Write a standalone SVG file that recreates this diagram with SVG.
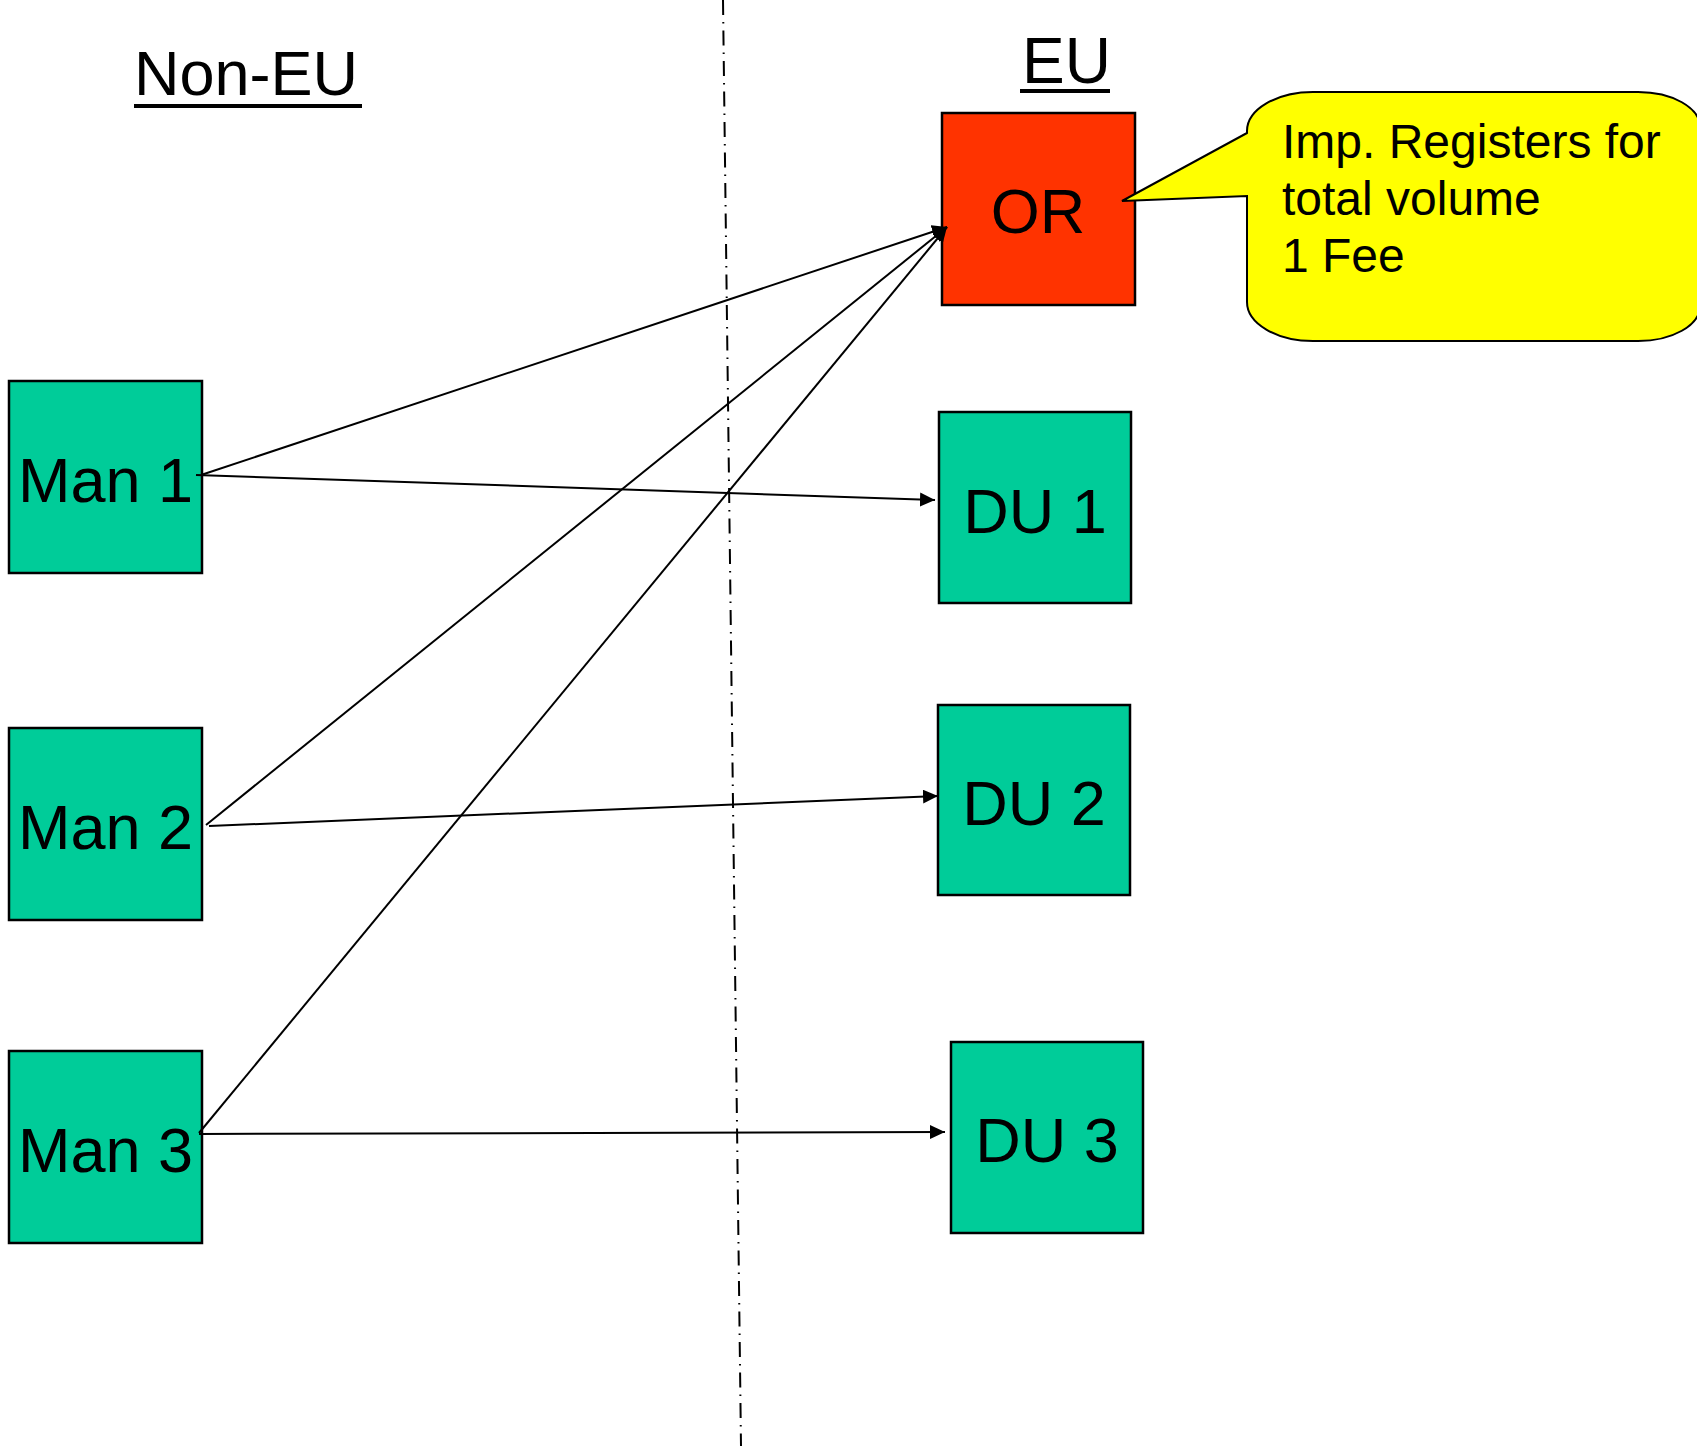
<svg xmlns="http://www.w3.org/2000/svg" width="1697" height="1446" viewBox="0 0 1697 1446">
<style>
.box{stroke:#000;stroke-width:2.5}
.green{fill:#00CC99}
.lbl{font-family:"Liberation Sans",Arial,sans-serif;font-size:63px;fill:#000;text-anchor:middle}
.head{font-family:"Liberation Sans",Arial,sans-serif;fill:#000}
.conn{stroke:#000;stroke-width:2;fill:none}
.ul{stroke:#000;stroke-width:4}
</style>
<defs>
<marker id="arr" markerUnits="userSpaceOnUse" markerWidth="16" markerHeight="14" refX="15" refY="7" orient="auto">
<path d="M0,0 L15,7 L0,14 Z" fill="#000"/>
</marker>
</defs>
<rect width="1697" height="1446" fill="#fff"/>
<line x1="723" y1="0" x2="741" y2="1446" stroke="#000" stroke-width="2" stroke-dasharray="15 7 1.5 7"/>
<g id="label-noneu">
<text class="head" x="134" y="95" font-size="63">Non-EU</text>
<line class="ul" x1="134" y1="106" x2="362" y2="106"/>
</g>
<g id="label-eu">
<text class="head" x="1022" y="83" font-size="64">EU</text>
<line class="ul" x1="1020" y1="91" x2="1110" y2="91"/>
</g>
<g id="node-or">
<rect class="box" x="942" y="113" width="193" height="192" fill="#FF3300"/>
<text class="lbl" x="1038" y="233">OR</text>
</g>
<g id="callout">
<path d="M1247,133 L1122,201 L1247,196 L1247,302 A66,39 0 0 0 1313,341 L1638,341 A62,35 0 0 0 1700,306 L1700,127 A62,35 0 0 0 1638,92 L1313,92 A66,39 0 0 0 1247,131 Z" fill="#FFFF00" stroke="#000" stroke-width="2"/>
<text class="head" font-size="48"><tspan x="1282" y="158">Imp. Registers for</tspan><tspan x="1282" y="215">total volume</tspan><tspan x="1282" y="272">1 Fee</tspan></text>
</g>
<g id="node-man1">
<rect class="box green" x="9" y="381" width="193" height="192"/>
<text class="lbl" x="105.5" y="502">Man 1</text>
</g>
<g id="node-man2">
<rect class="box green" x="9" y="728" width="193" height="192"/>
<text class="lbl" x="105.5" y="849">Man 2</text>
</g>
<g id="node-man3">
<rect class="box green" x="9" y="1051" width="193" height="192"/>
<text class="lbl" x="105.5" y="1172">Man 3</text>
</g>
<g id="node-du1">
<rect class="box green" x="939" y="412" width="192" height="191"/>
<text class="lbl" x="1035" y="533">DU 1</text>
</g>
<g id="node-du2">
<rect class="box green" x="938" y="705" width="192" height="190"/>
<text class="lbl" x="1034" y="825">DU 2</text>
</g>
<g id="node-du3">
<rect class="box green" x="951" y="1042" width="192" height="191"/>
<text class="lbl" x="1047" y="1162">DU 3</text>
</g>
<g id="connectors">
<line class="conn" x1="201" y1="475" x2="947" y2="227" marker-end="url(#arr)"/>
<line class="conn" x1="206" y1="825" x2="947" y2="227" marker-end="url(#arr)"/>
<line class="conn" x1="199" y1="1133" x2="947" y2="227" marker-end="url(#arr)"/>
<line class="conn" x1="196" y1="475" x2="935" y2="500" marker-end="url(#arr)"/>
<line class="conn" x1="209" y1="826" x2="938" y2="796" marker-end="url(#arr)"/>
<line class="conn" x1="199" y1="1134" x2="945" y2="1132" marker-end="url(#arr)"/>
</g>
</svg>
